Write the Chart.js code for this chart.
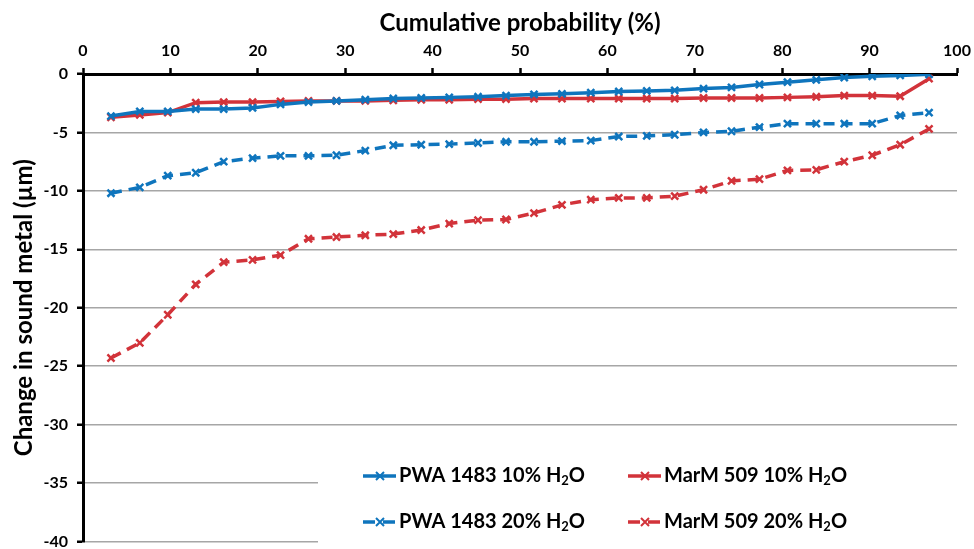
<!DOCTYPE html>
<html>
<head>
<meta charset="utf-8">
<script src="https://cdn.jsdelivr.net/npm/chart.js@4/dist/chart.umd.min.js"></script>
<style>
  html, body { margin: 0; padding: 0; background: #fff; }
  #wrap { width: 974px; height: 549px; }
</style>
</head>
<body>
<div id="wrap"><canvas id="probChart"></canvas></div>
<script>
const probability = [3.2, 6.5, 9.7, 12.9, 16.1, 19.4, 22.6, 25.8, 29.0, 32.3,
  35.5, 38.7, 41.9, 45.2, 48.4, 51.6, 54.8, 58.1, 61.3, 64.5,
  67.7, 71.0, 74.2, 77.4, 80.6, 83.9, 87.1, 90.3, 93.5, 96.8];

const pwa10 = [-3.6, -3.2, -3.2, -3.0, -3.0, -2.9, -2.6, -2.4, -2.3, -2.2,
  -2.1, -2.05, -2.0, -1.95, -1.85, -1.75, -1.7, -1.6, -1.5, -1.45,
  -1.4, -1.25, -1.15, -0.9, -0.7, -0.5, -0.3, -0.2, -0.12, -0.03];

const marm10 = [-3.7, -3.5, -3.3, -2.45, -2.4, -2.4, -2.35, -2.3, -2.3, -2.3,
  -2.25, -2.2, -2.2, -2.15, -2.15, -2.1, -2.1, -2.1, -2.1, -2.1,
  -2.1, -2.05, -2.05, -2.05, -2.0, -1.95, -1.85, -1.85, -1.9, -0.4];

const pwa20 = [-10.2, -9.7, -8.7, -8.45, -7.5, -7.2, -7.0, -7.0, -6.95, -6.55,
  -6.1, -6.05, -6.0, -5.9, -5.8, -5.8, -5.75, -5.7, -5.35, -5.3,
  -5.2, -5.0, -4.9, -4.55, -4.25, -4.25, -4.25, -4.25, -3.55, -3.3];

const marm20 = [-24.3, -23.0, -20.6, -18.0, -16.1, -15.9, -15.5, -14.1, -13.95, -13.8,
  -13.7, -13.35, -12.8, -12.5, -12.45, -11.9, -11.2, -10.75, -10.6, -10.6,
  -10.45, -9.9, -9.15, -9.0, -8.25, -8.2, -7.5, -6.95, -6.05, -4.7];

const seriesLabels = ["PWA 1483 10% H₂O", "MarM 509 10% H₂O", "PWA 1483 20% H₂O", "MarM 509 20% H₂O"];

const BLUE = "#0f75bd";
const RED = "#d2333a";
const FONT = "Lato, 'Open Sans', sans-serif";

function pts(values) {
  return values.map((v, i) => ({ x: probability[i], y: v }));
}

function lineSet(label, values, color, dashed) {
  return {
    label: label,
    data: pts(values),
    borderColor: color,
    backgroundColor: color,
    borderWidth: 3.5,
    borderDash: dashed ? [11, 7] : [],
    tension: 0,
    pointStyle: "crossRot",
    pointRadius: 5,
    pointBorderWidth: 2.5,
    pointBorderColor: color,
  };
}

// legend drawn over a white box in the lower right, two columns
const boxLegend = {
  id: "boxLegend",
  afterDraw(chart) {
    const c = chart.ctx;
    c.save();
    c.fillStyle = "#fff";
    c.fillRect(318, 440, 656, 109);
    const cols = [363, 628];
    const rows = [476, 522];
    chart.data.datasets.forEach((ds, i) => {
      const x0 = cols[i % 2];
      const y0 = rows[Math.floor(i / 2)];
      c.strokeStyle = ds.borderColor;
      c.lineWidth = 3.5;
      c.setLineDash(ds.borderDash.length ? [12, 8] : []);
      c.beginPath();
      c.moveTo(x0, y0);
      c.lineTo(x0 + 33, y0);
      c.stroke();
      c.setLineDash([]);
      c.lineWidth = 2;
      const mx = x0 + 17, r = 4;
      c.beginPath();
      c.moveTo(mx - r, y0 - r); c.lineTo(mx + r, y0 + r);
      c.moveTo(mx + r, y0 - r); c.lineTo(mx - r, y0 + r);
      c.stroke();

      const parts = ds.label.split("₂");
      c.fillStyle = "#000";
      c.textBaseline = "middle";
      c.textAlign = "left";
      let tx = x0 + 36;
      c.font = "bold 20px " + FONT;
      c.fillText(parts[0], tx, y0);
      tx += c.measureText(parts[0]).width;
      c.font = "bold 13px " + FONT;
      c.fillText("2", tx, y0 + 5);
      tx += c.measureText("2").width;
      c.font = "bold 20px " + FONT;
      c.fillText(parts[1], tx, y0);
    });
    c.restore();
  },
};

new Chart(document.getElementById("probChart"), {
  type: "line",
  data: {
    datasets: [
      lineSet(seriesLabels[0], pwa10, BLUE, false),
      lineSet(seriesLabels[1], marm10, RED, false),
      lineSet(seriesLabels[2], pwa20, BLUE, true),
      lineSet(seriesLabels[3], marm20, RED, true),
    ],
  },
  options: {
    responsive: true,
    maintainAspectRatio: false,
    animation: false,
    layout: { padding: { left: 0, top: 0, right: 17, bottom: 6 } },
    plugins: {
      legend: { display: false },
      tooltip: { enabled: false },
    },
    scales: {
      x: {
        type: "linear",
        position: "top",
        min: 0,
        max: 100,
        ticks: {
          stepSize: 10,
          color: "#000",
          padding: 8,
          font: { family: FONT, size: 16, weight: "bold" },
        },
        grid: {
          drawOnChartArea: false,
          drawTicks: true,
          tickLength: 6,
          tickColor: "#000",
          tickWidth: 2.5,
        },
        border: { color: "#000", width: 3 },
        title: {
          display: true,
          text: "Cumulative probability (%)",
          color: "#000",
          padding: { top: 9, bottom: 0 },
          font: { family: FONT, size: 24, weight: "bold" },
        },
        afterFit(scale) {
          scale.height = 74;
          scale.paddingLeft = 0;
          scale.paddingRight = 0;
        },
      },
      y: {
        min: -40,
        max: 0,
        ticks: {
          stepSize: 5,
          color: "#000",
          padding: 9,
          font: { family: FONT, size: 16, weight: "bold" },
        },
        grid: {
          color: "#a6a6a6",
          lineWidth: 1.5,
          drawTicks: true,
          tickLength: 6,
          tickColor: "#000",
          tickWidth: 2.5,
        },
        border: { color: "#000", width: 3 },
        title: {
          display: true,
          text: "Change in sound metal (µm)",
          color: "#000",
          padding: { top: 10, bottom: 0 },
          font: { family: FONT, size: 24, weight: "bold" },
        },
        afterFit(scale) {
          scale.width = 83;
          scale.paddingTop = 0;
          scale.paddingBottom = 0;
        },
      },
    },
  },
  plugins: [boxLegend],
});
</script>
</body>
</html>
